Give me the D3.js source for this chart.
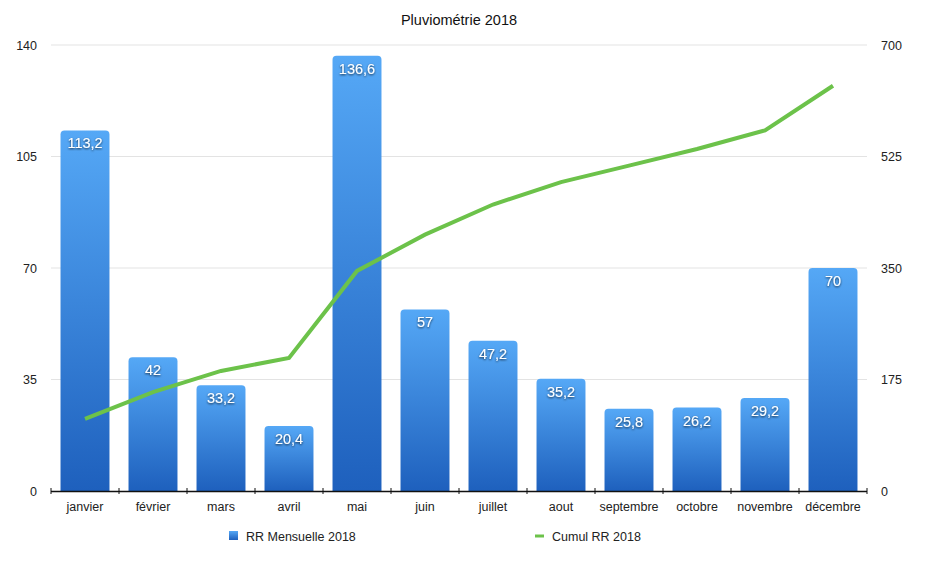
<!DOCTYPE html>
<html lang="fr">
  <head>
    <meta charset="UTF-8" />
    <title>Pluviométrie 2018</title>
    <script src="https://d3js.org/d3.v7.min.js"></script>
    <style>
      body { margin: 0; background: #ffffff; }
      svg { font-family: "Liberation Sans", Arial, sans-serif; }
      .tick text { fill: #222; font-size: 12.5px; }
    </style>
  </head>
  <body>
    <svg id="chart" width="943" height="563"></svg>
    <script>
      // données
      const months = ["janvier", "février", "mars", "avril", "mai", "juin", "juillet",
                      "aout", "septembre", "octobre", "novembre", "décembre"];
      const rainMonthly = [113.2, 42, 33.2, 20.4, 136.6, 57, 47.2, 35.2, 25.8, 26.2, 29.2, 70];
      const rainCumul = [113.2, 155.2, 188.4, 208.8, 345.4, 402.4, 449.6, 484.8, 510.6, 536.8, 566, 636];
      const leftTicks = [0, 35, 70, 105, 140];
      const rightTicks = [0, 175, 350, 525, 700];

      const W = 943, H = 563;
      const m = { left: 51, right: 76, top: 45, bottom: 72 };
      const svg = d3.select("#chart");

      const x = d3.scaleBand().domain(months)
        .range([m.left, W - m.right]).paddingInner(0.28).paddingOuter(0.14);
      const yL = d3.scaleLinear().domain([0, 140]).range([H - m.bottom, m.top]);
      const yR = d3.scaleLinear().domain([0, 700]).range([H - m.bottom, m.top]);

      const defs = svg.append("defs");
      const grad = defs.append("linearGradient").attr("id", "barGrad")
        .attr("x1", 0).attr("y1", 0).attr("x2", 0).attr("y2", 1);
      grad.append("stop").attr("offset", "0%").attr("stop-color", "#55a8f6");
      grad.append("stop").attr("offset", "100%").attr("stop-color", "#1e60bd");

      const shadow = defs.append("filter").attr("id", "txtShadow")
        .attr("x", "-20%").attr("y", "-30%").attr("width", "140%").attr("height", "160%");
      shadow.append("feDropShadow").attr("dx", 0).attr("dy", 1)
        .attr("stdDeviation", 1).attr("flood-color", "#000").attr("flood-opacity", 0.75);

      // titre
      svg.append("text").attr("x", 459).attr("y", 25)
        .attr("text-anchor", "middle").attr("font-size", 14.5).attr("fill", "#111")
        .text("Pluviométrie 2018");

      // grille
      svg.append("g").selectAll("line").data(leftTicks.slice(1)).join("line")
        .attr("x1", m.left).attr("x2", W - m.right)
        .attr("y1", d => yL(d)).attr("y2", d => yL(d))
        .attr("stroke", "#e3e3e3").attr("stroke-width", 1);

      // axes verticaux
      svg.append("g").attr("transform", `translate(${m.left - 14},0)`)
        .call(d3.axisLeft(yL).tickValues(leftTicks).tickSize(0).tickPadding(0))
        .call(g => g.select(".domain").remove());
      svg.append("g").attr("transform", `translate(${W - m.right + 14},0)`)
        .call(d3.axisRight(yR).tickValues(rightTicks).tickSize(0).tickPadding(0))
        .call(g => g.select(".domain").remove());

      // barres
      const bw = x.bandwidth(), r = 4;
      const barPath = (d, i) => {
        const x0 = x(months[i]), y0 = yL(d), y1 = yL(0);
        return `M${x0},${y1}V${y0 + r}Q${x0},${y0} ${x0 + r},${y0}H${x0 + bw - r}` +
               `Q${x0 + bw},${y0} ${x0 + bw},${y0 + r}V${y1}Z`;
      };
      svg.append("g").selectAll("path").data(rainMonthly).join("path")
        .attr("d", barPath).attr("fill", "url(#barGrad)");

      // axe des mois
      const bounds = d3.range(months.length + 1).map(i => m.left + i * (W - m.left - m.right) / months.length);
      const xAxis = svg.append("g");
      xAxis.append("line").attr("x1", m.left).attr("x2", W - m.right)
        .attr("y1", yL(0) + 0.5).attr("y2", yL(0) + 0.5)
        .attr("stroke", "#111").attr("stroke-width", 1.5);
      xAxis.selectAll("line.tk").data(bounds).join("line").attr("class", "tk")
        .attr("x1", d => d).attr("x2", d => d)
        .attr("y1", yL(0) - 3).attr("y2", yL(0) + 3)
        .attr("stroke", "#111").attr("stroke-width", 1);
      xAxis.selectAll("text").data(months).join("text")
        .attr("x", d => x(d) + bw / 2).attr("y", yL(0) + 20)
        .attr("text-anchor", "middle").attr("font-size", 12.5).attr("fill", "#222")
        .text(d => d);

      // ligne du cumul
      const line = d3.line().x((d, i) => x(months[i]) + bw / 2).y(d => yR(d));
      svg.append("path").datum(rainCumul).attr("d", line)
        .attr("fill", "none").attr("stroke", "#6cc24a").attr("stroke-width", 4);

      // étiquettes des barres
      svg.append("g").selectAll("text").data(rainMonthly).join("text")
        .attr("x", (d, i) => x(months[i]) + bw / 2).attr("y", d => yL(d) + 18)
        .attr("text-anchor", "middle").attr("font-size", 14.5).attr("fill", "#fff")
        .attr("filter", "url(#txtShadow)")
        .text(d => String(d).replace(".", ","));

      // légende
      const lg = svg.append("g");
      lg.append("rect").attr("x", 229).attr("y", 531).attr("width", 9).attr("height", 9)
        .attr("fill", "url(#barGrad)");
      lg.append("text").attr("x", 246).attr("y", 541).attr("font-size", 12.5).attr("fill", "#222")
        .text("RR Mensuelle 2018");
      lg.append("line").attr("x1", 535).attr("x2", 544).attr("y1", 536).attr("y2", 536)
        .attr("stroke", "#6cc24a").attr("stroke-width", 3);
      lg.append("text").attr("x", 552).attr("y", 541).attr("font-size", 12.5).attr("fill", "#222")
        .text("Cumul RR 2018");
    </script>
  </body>
</html>
